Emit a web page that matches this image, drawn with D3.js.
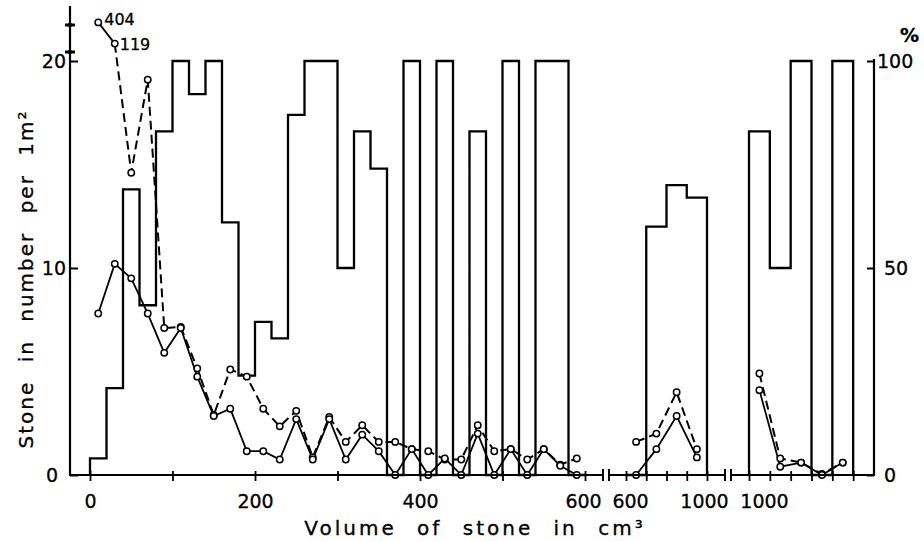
<!DOCTYPE html>
<html><head><meta charset="utf-8">
<script src="https://cdn.jsdelivr.net/npm/d3@7"></script>
<style>
body{margin:0;background:#fff}
svg{display:block}
text{font-family:"DejaVu Sans",sans-serif;fill:#000;stroke:#000;stroke-width:0.3px}
</style>
</head><body>
<svg id="c" width="924" height="541"></svg>
<script>
// ---------------- data ----------------
// segment A: 0-600 cm3, 20 cm3 classes
const volA    = [10,30,50,70,90,110,130,150,170,190,210,230,250,270,290,310,330,350,370,390,410,430,450,470,490,510,530,550,570,590];
const solidA  = [7.8,10.2,9.5,7.8,5.9,7.1,4.75,2.85,3.2,1.15,1.15,0.75,2.7,0.75,2.7,0.75,1.95,1.15,0,1.25,0,0.8,0,2.0,0,1.25,0,1.25,0.45,0];
const dashedA = [404,119,14.6,19.1,7.1,7.15,5.15,2.9,5.1,4.75,3.2,2.35,3.1,0.85,2.8,1.6,2.4,1.6,1.6,1.25,1.15,0.75,0.75,2.4,1.15,1.25,0.75,1.25,0.5,0.8];
const pctA    = [4,21,69,41,83,100,92,100,61,24,37,33,87,100,100,50,83,74,0,100,0,100,0,83,0,100,0,100,100,0];
// segment B: 600-1000 cm3, 100 cm3 classes
const volB    = [650,750,850,950];
const solidB  = [0,1.25,2.85,0.85];
const dashedB = [1.6,2.0,4.0,1.25];
const pctB    = [0,60,70,67];
// segment C: above 1000 cm3
const volC    = [1500,2500,3500,4500,5500];
const solidC  = [4.1,0.4,0.6,0,0.6];
const dashedC = [4.9,0.8,0.6,0.05,0.6];
const pctC    = [83,50,100,0,100];
// ticks / labels
const ticksA = [0,100,200,300,400,500,600], labelsA = [0,200,400,600];
const ticksB = [600,700,800,900,1000],      labelsB = [600,1000];
const ticksC = [1000,2000,3000,4000,5000,6000], labelsC = [1000];
const yTicks = [0,10,20];
const pctTicks = [0,50,100];
const overflowLabels = ["404","119"];

// ---------------- layout ----------------
const svg = d3.select('#c');
const X0 = 70, XR = 874, Y0 = 475;
const y = d3.scaleLinear().domain([0,20]).range([Y0,61]);
const yPct = d3.scaleLinear().domain([0,100]).range([Y0,61]);
const yOver = d3.scaleLinear().domain([20,100,450]).range([61,45,19]);
const yv = v => v > 20 ? yOver(v) : y(v);

const segs = [
  {x:d3.scaleLinear().domain([0,600]).range([90,585]), vol:volA, solid:solidA, dashed:dashedA, pct:pctA, bw:20,
   ax:[X0,603], ticks:ticksA, labels:labelsA, ldx:[0,0,0,-2]},
  {x:d3.scaleLinear().domain([600,1000]).range([626,707]), vol:volB, solid:solidB, dashed:dashedB, pct:pctB, bw:100,
   ax:[609,725], ticks:ticksB, labels:labelsB, ldx:[4,-3]},
  {x:d3.scaleLinear().domain([1000,7000]).range([749,874]), vol:volC, solid:solidC, dashed:dashedC, pct:pctC, bw:1000,
   ax:[731,XR], ticks:ticksC, labels:labelsC, ldx:[15]}
];

const g = svg.append('g');
const line = d3.line().x(d=>d[0]).y(d=>d[1]);

segs.forEach(s=>{
  // histogram (percentage) as step outline
  const pts = [[s.x(s.vol[0]-s.bw/2), yPct(0)]];
  s.pct.forEach((p,i)=>{
    pts.push([s.x(s.vol[i]-s.bw/2), yPct(p)]);
    pts.push([s.x(s.vol[i]+s.bw/2), yPct(p)]);
  });
  pts.push([s.x(s.vol[s.pct.length-1]+s.bw/2), yPct(0)]);
  g.append('path').attr('d', line(pts)).attr('fill','none')
   .attr('stroke','#000').attr('stroke-width',2.3).attr('stroke-linejoin','miter');
});

segs.forEach((s,si)=>{
  // dashed series
  const dp = s.vol.map((v,i)=>[s.x(v), yv(s.dashed[i])]);
  if(si===0){
    g.append('path').attr('d', line(dp.slice(0,2))).attr('fill','none')
     .attr('stroke','#000').attr('stroke-width',1.8);
    g.append('path').attr('d', line(dp.slice(1))).attr('fill','none')
     .attr('stroke','#000').attr('stroke-width',2).attr('stroke-dasharray','9,5');
  } else {
    g.append('path').attr('d', line(dp)).attr('fill','none')
     .attr('stroke','#000').attr('stroke-width',2).attr('stroke-dasharray','9,5');
  }
  // solid series
  const sp = s.vol.map((v,i)=>[s.x(v), y(s.solid[i])]);
  g.append('path').attr('d', line(sp)).attr('fill','none')
   .attr('stroke','#000').attr('stroke-width',1.8);
  // markers
  g.selectAll(null).data(dp.concat(sp)).enter().append('circle')
   .attr('cx',d=>d[0]).attr('cy',d=>d[1]).attr('r',3.2)
   .attr('fill','#fff').attr('stroke','#000').attr('stroke-width',1.5);
});

// overflow labels
const s0 = segs[0];
overflowLabels.forEach((t,i)=>{
  g.append('text').attr('x', s0.x(volA[i])+ (i?5:6)).attr('y', yv(dashedA[i])+ (i?6:3))
   .attr('font-size',16).text(t);
});

// ---------------- axes ----------------
// x axis segments
segs.forEach(s=>{
  g.append('line').attr('x1',s.ax[0]).attr('x2',s.ax[1]).attr('y1',Y0).attr('y2',Y0)
   .attr('stroke','#000').attr('stroke-width',2.2);
  const axis = d3.axisBottom(s.x).tickValues(s.ticks).tickSize(6).tickPadding(14)
    .tickFormat(d=> s.labels.includes(d) ? d : '');
  const ag = g.append('g').attr('transform',`translate(0,${Y0})`).call(axis);
  ag.select('.domain').remove();
  ag.selectAll('.tick line').attr('y1',-4).attr('stroke','#000').attr('stroke-width',1.8);
  ag.selectAll('.tick text').attr('font-size',19).attr('font-family','"DejaVu Sans",sans-serif')
    .attr('fill','#000').attr('dx',(d)=> { const k=s.labels.indexOf(d); return k>=0 ? s.ldx[k] : 0; });
});
// break caps
[603,609,725,731].forEach(xx=>{
  g.append('line').attr('x1',xx).attr('x2',xx).attr('y1',Y0-6).attr('y2',Y0+6)
   .attr('stroke','#000').attr('stroke-width',2);
});

// left axis
g.append('line').attr('x1',X0).attr('x2',X0).attr('y1',Y0+1).attr('y2',6)
 .attr('stroke','#000').attr('stroke-width',2.2);
const la = g.append('g').attr('transform',`translate(${X0},0)`)
  .call(d3.axisLeft(y).tickValues(yTicks).tickSize(-8).tickPadding(4));
la.select('.domain').remove();
la.selectAll('.tick line').attr('stroke','#000').attr('stroke-width',2);
la.selectAll('.tick text').attr('font-size',19).attr('font-family','"DejaVu Sans",sans-serif').attr('fill','#000')
  .attr('dx',d=> d===0 ? -8 : 0);
// axis break marks (values above 20)
[yOver(450)+6, yOver(100)+7].forEach(yy=>{
  g.append('line').attr('x1',X0-5).attr('x2',X0+5).attr('y1',yy).attr('y2',yy)
   .attr('stroke','#000').attr('stroke-width',3);
  g.append('circle').attr('cx',X0).attr('cy',yy).attr('r',2.2).attr('fill','#000');
});

// right axis
g.append('line').attr('x1',XR).attr('x2',XR).attr('y1',Y0+1).attr('y2',yPct(100)-2)
 .attr('stroke','#000').attr('stroke-width',2.2);
const ra = g.append('g').attr('transform',`translate(${XR},0)`)
  .call(d3.axisRight(yPct).tickValues(pctTicks).tickSize(-7).tickPadding(7));
ra.select('.domain').remove();
ra.selectAll('.tick line').attr('stroke','#000').attr('stroke-width',2);
ra.selectAll('.tick text').attr('font-size',19).attr('font-family','"DejaVu Sans",sans-serif').attr('fill','#000')
  .attr('dx',d=> d===100 ? -4 : 3);
g.append('text').attr('x',900).attr('y',42).attr('font-size',19).attr('font-weight','bold').text('%');

// titles
g.append('text').attr('x',475).attr('y',535).attr('text-anchor','middle')
 .attr('font-size',20).attr('letter-spacing',3).attr('word-spacing',11)
 .text('Volume of stone in cm³');
g.append('text').attr('transform','translate(33,279) rotate(-90)').attr('text-anchor','middle')
 .attr('font-size',20).attr('letter-spacing',2).attr('word-spacing',10)
 .text('Stone in number per 1m²');
</script>
</body></html>
